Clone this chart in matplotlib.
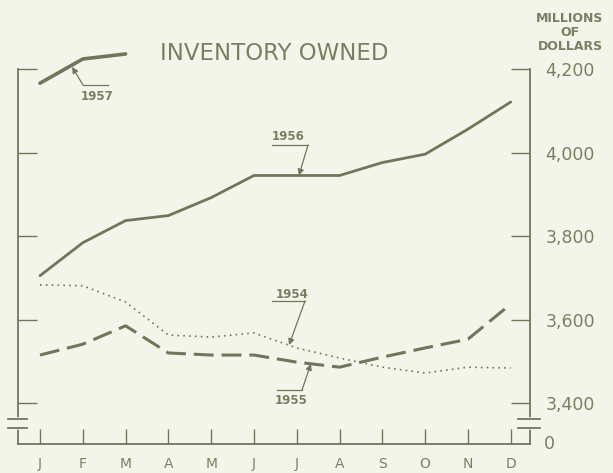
import matplotlib.pyplot as plt
from matplotlib.lines import Line2D
from matplotlib.ticker import FuncFormatter

# Inventory owned, millions of dollars
months = ['J', 'F', 'M', 'A', 'M', 'J', 'J', 'A', 'S', 'O', 'N', 'D']
inv_1954 = [3683, 3681, 3642, 3563, 3558, 3568, 3532, 3508, 3486, 3472, 3486, 3484]
inv_1955 = [3515, 3541, 3585, 3520, 3515, 3515, 3498, 3486, 3510, 3532, 3553, 3637]
inv_1956 = [3705, 3784, 3837, 3849, 3892, 3945, 3945, 3945, 3976, 3996, 4056, 4121]
inv_1957 = [4166, 4224, 4236]
y_ticks = [3400, 3600, 3800, 4000, 4200]

ink = '#71765a'
txt = '#7a7f62'
bg = '#f4f5ea'

fig = plt.figure(figsize=(6.13, 4.73), dpi=100, facecolor=bg)
W, H = 613, 473
ax = fig.add_axes([18 / W, (H - 444) / H, 512 / W, 375 / H])
ax.set_facecolor(bg)

x = list(range(len(months)))
ax.plot(x, inv_1956, color=ink, lw=2.0, solid_capstyle='round')
ax.plot(x[:len(inv_1957)], inv_1957, color=ink, lw=2.6, clip_on=False,
        solid_capstyle='round')
ax.plot(x, inv_1954, color=ink, lw=1.2, linestyle=(0, (1, 2.5)))
ax.plot(x, inv_1955, color=ink, lw=2.2, linestyle=(0, (6.5, 2.6)))

ax.set_xlim(-0.514, 11.45)
ax.set_ylim(3302, 4200)

ax.spines['top'].set_visible(False)
for s in ['left', 'right', 'bottom']:
    ax.spines[s].set_color(ink)
    ax.spines[s].set_linewidth(1.3)

ax.set_xticks(x)
ax.set_xticklabels(months)
ax.tick_params(axis='x', direction='in', length=11, width=1, color=ink,
               labelcolor=txt, labelsize=10, pad=9)
ax.set_yticks(y_ticks)
ax.yaxis.set_major_formatter(FuncFormatter(lambda v, p: f'{int(v):,}'))
ax.tick_params(axis='y', which='both', direction='in', length=14, width=1,
               color=ink, left=True, right=True, labelleft=False,
               labelright=True, labelcolor=txt, labelsize=12.5, pad=11)

# zero label at the foot of the broken scale
ax.text(1.027, 0, '0', transform=ax.transAxes, color=txt, fontsize=12.5,
        ha='left', va='center')

# axis breaks
for x0, x1, xc in [(8, 27, 18), (518, 540, 530)]:
    fig.add_artist(Line2D([xc, xc], [H - 427, H - 420], transform=None,
                          color=bg, lw=4))
    for yy in (419, 428):
        fig.add_artist(Line2D([x0, x1], [H - yy, H - yy], transform=None,
                              color=ink, lw=1.3))

# title and units
fig.text(274 / W, (H - 54) / H, 'INVENTORY OWNED', color=txt, fontsize=16.5,
         ha='center', va='center')
fig.text(570 / W, (H - 33) / H, 'MILLIONS\nOF\nDOLLARS', color=txt,
         fontsize=9, fontweight='bold', ha='center', va='center',
         linespacing=1.1)


def leader(label, tx, ty, path, tip):
    fig.text(tx / W, (H - ty) / H, label, color=txt, fontsize=8.5,
             fontweight='bold', ha='center', va='center')
    xs = [p[0] for p in path]
    ys = [H - p[1] for p in path]
    fig.add_artist(Line2D(xs, ys, transform=None, color=ink, lw=0.9))
    ax.annotate('', xy=tip, xycoords='data', xytext=(xs[-1], ys[-1]),
                textcoords='figure pixels', annotation_clip=False,
                arrowprops=dict(arrowstyle='-|>', color=ink, lw=0.9,
                                mutation_scale=9, shrinkA=0, shrinkB=0))


leader('1956', 288, 137, [(272, 145), (308, 145)], (6.05, 3945))
leader('1954', 292, 295, [(272, 301), (305, 301)], (5.82, 3539))
leader('1955', 291, 400, [(277, 390), (302, 390)], (6.33, 3494))
leader('1957', 97, 96, [(108, 85), (83, 85)], (0.75, 4205))

fig.savefig('out.png', dpi=100, facecolor=bg)
